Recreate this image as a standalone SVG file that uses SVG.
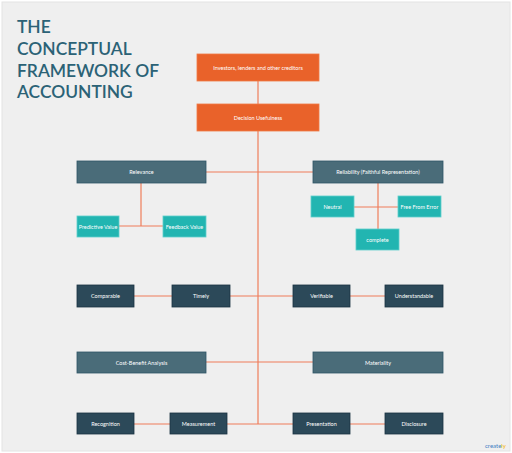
<svg xmlns="http://www.w3.org/2000/svg" width="512" height="453" viewBox="0 0 512 453">
<style>
.title{font-family:Lato,"Open Sans",sans-serif;font-size:17.4px;fill:#2b6276;font-weight:600}
.lbl{font-family:Lato,"Liberation Sans",sans-serif;font-size:5.5px;fill:#ffffff;text-anchor:middle;dominant-baseline:central}
.or{fill:#e9622a;stroke:#f07a45;stroke-width:0.8}
.sl{fill:#4a6c79;stroke:#2f5566;stroke-width:0.8}
.tl{fill:#22b5b1;stroke:#5fd0cc;stroke-width:0.8}
.dk{fill:#2c4959;stroke:#1b3342;stroke-width:0.8}
.con line{stroke:#ef7d5a;stroke-width:1.2;fill:none}
</style>
<rect x="0" y="0" width="512" height="453" fill="#ffffff"/>
<rect x="2" y="2" width="508" height="449" fill="#efefef" stroke="#e4e4e4" stroke-width="1"/>
<g id="title">
<text class="title" x="17" y="33">THE</text>
<text class="title" x="17" y="55">CONCEPTUAL</text>
<text class="title" x="17" y="77">FRAMEWORK OF</text>
<text class="title" x="17" y="98">ACCOUNTING</text>
</g>
<g class="con" id="connectors">
<line x1="258" y1="81" x2="258" y2="104"/>
<line x1="258" y1="131" x2="258" y2="424"/>
<line x1="206" y1="172" x2="313" y2="172"/>
<line x1="141" y1="183" x2="141" y2="226"/>
<line x1="119" y1="226" x2="163" y2="226"/>
<line x1="378" y1="183" x2="378" y2="229"/>
<line x1="354" y1="207" x2="398" y2="207"/>
<line x1="134" y1="296" x2="172" y2="296"/>
<line x1="230" y1="296" x2="293" y2="296"/>
<line x1="350" y1="296" x2="385" y2="296"/>
<line x1="206" y1="362" x2="313" y2="362"/>
<line x1="134" y1="424" x2="170" y2="424"/>
<line x1="227" y1="424" x2="293" y2="424"/>
<line x1="350" y1="424" x2="385" y2="424"/>
</g>
<g id="investors"><rect class="or" x="197" y="54" width="122" height="27"/><text class="lbl" x="258" y="67.5">Investors, lenders and other creditors</text></g>
<g id="decision"><rect class="or" x="197" y="104" width="122" height="27"/><text class="lbl" x="258" y="117.5">Decision Usefulness</text></g>
<g id="relevance"><rect class="sl" x="77" y="161" width="129" height="22"/><text class="lbl" x="141.5" y="172">Relevance</text></g>
<g id="reliability"><rect class="sl" x="313" y="161" width="130" height="22"/><text class="lbl" x="378" y="172">Reliability (Faithful Representation)</text></g>
<g id="predictive"><rect class="tl" x="77" y="216" width="42" height="21"/><text class="lbl" x="98" y="226.5">Predictive Value</text></g>
<g id="feedback"><rect class="tl" x="163" y="216" width="43" height="21"/><text class="lbl" x="184.5" y="226.5">Feedback Value</text></g>
<g id="neutral"><rect class="tl" x="311" y="196" width="43" height="21"/><text class="lbl" x="332.5" y="206.5">Neutral</text></g>
<g id="freefromerror"><rect class="tl" x="398" y="196" width="43" height="21"/><text class="lbl" x="419.5" y="206.5">Free From Error</text></g>
<g id="complete"><rect class="tl" x="356" y="229" width="43" height="21"/><text class="lbl" x="377.5" y="239.5">complete</text></g>
<g id="comparable"><rect class="dk" x="77" y="285" width="57" height="22"/><text class="lbl" x="105.5" y="296">Comparable</text></g>
<g id="timely"><rect class="dk" x="172" y="285" width="58" height="22"/><text class="lbl" x="201" y="296">Timely</text></g>
<g id="verifiable"><rect class="dk" x="293" y="285" width="57" height="22"/><text class="lbl" x="321.5" y="296">Verifiable</text></g>
<g id="understandable"><rect class="dk" x="385" y="285" width="58" height="22"/><text class="lbl" x="414" y="296">Understandable</text></g>
<g id="costbenefit"><rect class="sl" x="77" y="352" width="129" height="21"/><text class="lbl" x="141.5" y="362.5">Cost-Benefit Analysis</text></g>
<g id="materiality"><rect class="sl" x="313" y="352" width="130" height="21"/><text class="lbl" x="378" y="362.5">Materiality</text></g>
<g id="recognition"><rect class="dk" x="77" y="413" width="57" height="21"/><text class="lbl" x="105.5" y="423.5">Recognition</text></g>
<g id="measurement"><rect class="dk" x="170" y="413" width="57" height="21"/><text class="lbl" x="198.5" y="423.5">Measurement</text></g>
<g id="presentation"><rect class="dk" x="293" y="413" width="57" height="21"/><text class="lbl" x="321.5" y="423.5">Presentation</text></g>
<g id="disclosure"><rect class="dk" x="385" y="413" width="58" height="21"/><text class="lbl" x="414" y="423.5">Disclosure</text></g>
<g id="logo"><text x="485" y="447.5" font-family="Lato,sans-serif" font-size="6" fill="#3b7ec2">create<tspan fill="#f5b400">ly</tspan></text></g>
</svg>
